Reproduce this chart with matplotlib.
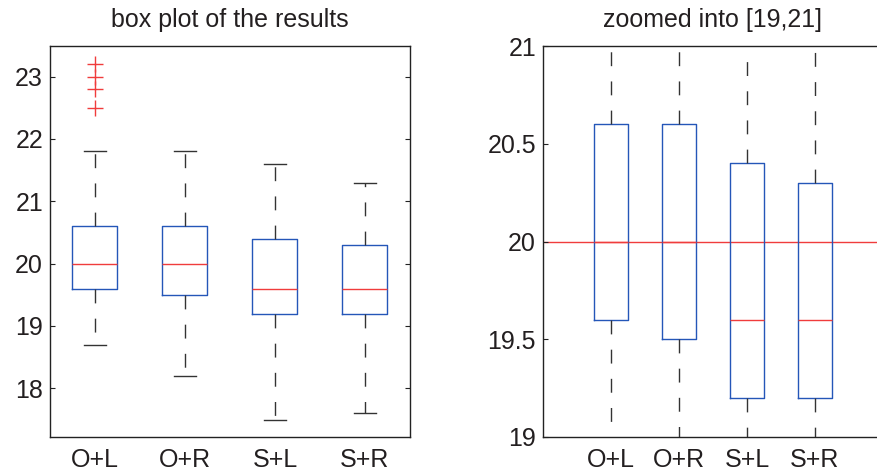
import matplotlib
matplotlib.use("Agg")
import matplotlib.pyplot as plt

plt.rcParams["font.family"] = ["Liberation Sans", "DejaVu Sans"]

# Summary statistics of the four configurations
categories = ["O+L", "O+R", "S+L", "S+R"]
whisker_low = [18.7, 18.2, 17.5, 17.6]
q1 = [19.6, 19.5, 19.2, 19.2]
median = [20.0, 20.0, 19.6, 19.6]
q3 = [20.6, 20.6, 20.4, 20.3]
whisker_high = [21.8, 21.8, 21.6, 21.3]
outliers = [[23.2, 23.0, 22.8, 22.5], [], [], []]

left_yticks = [18, 19, 20, 21, 22, 23]
right_yticks = [19, 19.5, 20, 20.5, 21]
right_yticklabels = ["19", "19.5", "20", "20.5", "21"]
reference_level = 20.0

stats = [
    dict(label=c, whislo=lo, q1=a, med=m, q3=b, whishi=hi, fliers=f)
    for c, lo, a, m, b, hi, f in zip(categories, whisker_low, q1, median,
                                     q3, whisker_high, outliers)
]

TEXT = "#231f20"
BLUE = "#2456b8"
RED = "#f03c3c"
DARK = "#333333"

fig = plt.figure(figsize=(8.78, 4.71), dpi=100)
ax1 = fig.add_axes([50 / 878, 1 - 437 / 471, 360 / 878, 391 / 471])
ax2 = fig.add_axes([543 / 878, 1 - 437 / 471, 340 / 878, 391 / 471])

box_kw = dict(
    positions=[1, 2, 3, 4],
    widths=0.5,
    capwidths=0.25,
    boxprops=dict(color=BLUE, linewidth=1.0),
    medianprops=dict(color=RED, linewidth=1.0),
    whiskerprops=dict(color=DARK, linewidth=1.0, linestyle=(0, (10, 11))),
    capprops=dict(color=DARK, linewidth=1.0),
    flierprops=dict(marker="+", markeredgecolor=RED, markersize=11,
                    markeredgewidth=1.0, linestyle="none"),
)

for ax in (ax1, ax2):
    ax.bxp(stats, **box_kw)
    for s in ax.spines.values():
        s.set_color("#222222")
        s.set_linewidth(1.0)
    ax.tick_params(axis="y", direction="in", length=3.5, width=0.8,
                   labelsize=18, colors="#222222", labelcolor=TEXT,
                   pad=5, right=True)
    ax.tick_params(axis="x", length=0, labelsize=18, labelcolor=TEXT, pad=8)
    ax.set_xticks([1, 2, 3, 4])
    ax.set_xticklabels(categories)

ax1.set_xlim(0.5, 4.5)
ax1.set_ylim(17.22, 23.49)
ax1.set_yticks(left_yticks)
ax1.set_title("box plot of the results", fontsize=18, color=TEXT, pad=14)

ax2.axhline(reference_level, color=RED, linewidth=1.0, zorder=1)
ax2.set_xlim(0, 5)
ax2.set_ylim(19, 21)
ax2.set_yticks(right_yticks)
ax2.set_yticklabels(right_yticklabels)
ax2.set_title("zoomed into [19,21]", fontsize=18, color=TEXT, pad=14)

fig.savefig("out.png", dpi=100)
